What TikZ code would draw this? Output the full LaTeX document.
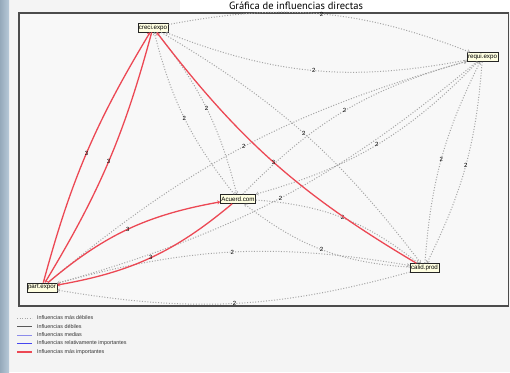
\documentclass[tikz,border=0pt]{standalone}
\usepackage{fontspec}
\setmainfont{Liberation Sans}
\newfontfamily\titlefont{PT Sans}
\usepackage{tikz}
\usetikzlibrary{arrows.meta,shadows}
\definecolor{fondo}{HTML}{F4F4F4}
\definecolor{marco}{HTML}{F8F8F8}
\definecolor{franja}{HTML}{A6BCCF}
\definecolor{caja}{HTML}{FFFFE2}
\definecolor{fuerte}{HTML}{EC4854}
\definecolor{debil}{HTML}{A5A5A5}
\definecolor{mediacol}{HTML}{8C8CEB}
\definecolor{relcol}{HTML}{4646F0}
\newcommand{\influencia}[5][14]{
    \draw[#4] (#2) to[bend left=#1] node[peso] {#5} (#3);
}

\begin{document}
\begin{tikzpicture}[x=1pt,y=-1pt,
    var/.style={draw=black!85, line width=0.7pt, fill=caja, inner sep=1pt,
        minimum height=9pt, font=\fontsize{6.2}{6.2}\selectfont,
        drop shadow={shadow xshift=0.7pt, shadow yshift=-0.7pt, fill=black!60, opacity=1}},
    peso/.style={font=\fontsize{6}{6}\selectfont, inner sep=0.5pt, text=black},
    masdebil/.style={draw=debil, line width=1pt, dash pattern=on 1pt off 1.7pt,
        -{Straight Barb[length=2.2pt,width=3.6pt,line width=0.5pt]}},
    masfuerte/.style={draw=fuerte, line width=1.3pt,
        -{Straight Barb[length=2.2pt,width=3.4pt,line width=0.6pt]}},
    leyenda/.style={anchor=west, inner sep=0pt, text=black!80,
        font=\fontsize{5.4}{6}\selectfont}]
    \useasboundingbox (0,0) rectangle (510,372);
    % fondo y marco
    \fill[fondo] (0,0) rectangle (510,372);
    \shade[left color=franja!90!black, right color=franja!80!white] (0,0) rectangle (9,372);
    \fill[white] (180,0) rectangle (510,12);
    \fill[marco] (19,13) rectangle (508.5,306);
    \draw[black!70, line width=1.1pt] (19,13) rectangle (508.5,306);
    \node[font=\titlefont\fontsize{10.5}{11}\selectfont, inner sep=0pt] (titulo) at (296,5.5) {Gráfica de influencias directas};

    % leyenda
    \node[leyenda] (ley1) at (37,318) {Influencias más débiles};
    \node[leyenda] (ley2) at (37,326.5) {Influencias débiles};
    \node[leyenda] (ley3) at (37,335) {Influencias medias};
    \node[leyenda] (ley4) at (37,343.5) {Influencias relativamente importantes};
    \node[leyenda] (ley5) at (37,352) {Influencias más importantes};
    \draw[debil, line width=0.7pt, dash pattern=on 0.9pt off 1.6pt] ([xshift=-20pt]ley1.west) -- ([xshift=-5pt]ley1.west);
    \fill[black!65] ([xshift=-20pt,yshift=-0.3pt]ley2.west) rectangle ([xshift=-5pt,yshift=0.3pt]ley2.west);
    \fill[mediacol] ([xshift=-20pt,yshift=-0.5pt]ley3.west) rectangle ([xshift=-5pt,yshift=0.5pt]ley3.west);
    \fill[relcol] ([xshift=-20pt,yshift=-0.8pt]ley4.west) rectangle ([xshift=-5pt,yshift=0.8pt]ley4.west);
    \fill[fuerte] ([xshift=-20pt,yshift=-0.8pt]ley5.west) rectangle ([xshift=-5pt,yshift=0.8pt]ley5.west);

    % variables
    \node[var] (creci) at (153,27.5) {creci.expo};
    \node[var] (requi) at (482.5,57) {requi.expo};
    \node[var] (acuerd) at (238,199) {Acuerd.com};
    \node[var] (part) at (42,287.5) {part.expor};
    \node[var] (calid) at (424.5,268) {calid.prod};

    % influencias directas
    \influencia[16]{creci}{requi}{masdebil}{2}
    \influencia[16]{requi}{creci}{masdebil}{2}
    \influencia[12]{creci}{acuerd}{masdebil}{2}
    \influencia[12]{acuerd}{creci}{masdebil}{2}
    \influencia[11]{creci}{calid}{masdebil}{2}
    \influencia[15]{requi}{acuerd}{masdebil}{2}
    \influencia[15]{acuerd}{requi}{masdebil}{2}
    \influencia[11]{requi}{calid}{masdebil}{2}
    \influencia[11]{calid}{requi}{masdebil}{2}
    \influencia[12]{requi}{part}{masdebil}{2}
    \influencia[12]{part}{requi}{masdebil}{2}
    \influencia[17]{acuerd}{calid}{masdebil}{2}
    \influencia[17]{calid}{acuerd}{masdebil}{2}
    \influencia[12.5]{calid}{part}{masdebil}{2}
    \influencia[12.5]{part}{calid}{masdebil}{2}
    \influencia[11]{calid}{creci}{masfuerte}{3}
    \influencia[8]{creci}{part}{masfuerte}{3}
    \influencia[8]{part}{creci}{masfuerte}{3}
    \influencia[15]{acuerd}{part}{masfuerte}{3}
    \influencia[15]{part}{acuerd}{masfuerte}{3}
\end{tikzpicture}
\end{document}
